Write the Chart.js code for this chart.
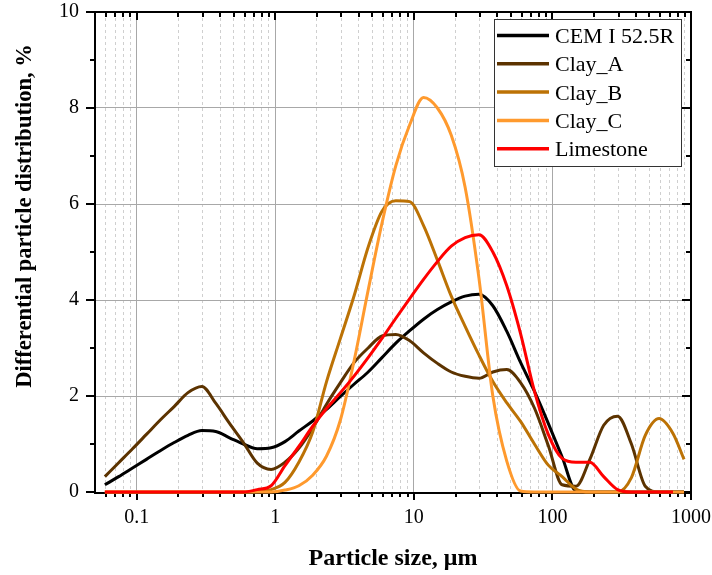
<!DOCTYPE html>
<html>
<head>
<meta charset="utf-8">
<script src="https://cdn.jsdelivr.net/npm/chart.js@4"></script>
<style>
html, body { margin: 0; padding: 0; background: #fff; }
</style>
</head>
<body>
<canvas id="c" width="712" height="575"></canvas>
<script>
// particle sizes, um
var sizes = [0.0589, 0.0741, 0.0933, 0.1175, 0.1479, 0.1862, 0.2344, 0.2951, 0.3715, 0.4677,
    0.5888, 0.7413, 0.9333, 1.175, 1.479, 1.862, 2.344, 2.951, 3.715, 4.677,
    5.888, 7.413, 9.333, 11.75, 14.79, 18.62, 23.44, 29.51, 37.15, 46.77,
    58.88, 74.13, 93.33, 117.5, 147.9, 186.2, 234.4, 295.1, 371.5, 467.7,
    588.8, 741.3, 891];

var cem = [0.15, 0.32, 0.50, 0.68, 0.86, 1.03, 1.18, 1.28, 1.26, 1.13,
    1.00, 0.90, 0.92, 1.05, 1.27, 1.48, 1.72, 1.99, 2.25, 2.50,
    2.80, 3.10, 3.36, 3.60, 3.80, 3.96, 4.08, 4.12, 3.88, 3.35,
    2.70, 2.10, 1.43, 0.73, 0.02, 0, 0, 0, 0, 0,
    0, 0, 0];

var clayA = [0.32, 0.61, 0.90, 1.20, 1.50, 1.78, 2.07, 2.20, 1.85, 1.43,
    1.03, 0.60, 0.47, 0.62, 0.91, 1.33, 1.83, 2.28, 2.70, 3.00,
    3.25, 3.28, 3.15, 2.90, 2.68, 2.50, 2.41, 2.37, 2.50, 2.55,
    2.28, 1.75, 0.97, 0.15, 0.12, 0.68, 1.39, 1.58, 1.00, 0.12,
    0, 0, 0];

var clayB = [0, 0, 0, 0, 0, 0, 0, 0, 0, 0,
    0, 0.01, 0.05, 0.20, 0.62, 1.25, 2.30, 3.20, 4.10, 5.10,
    5.85, 6.07, 6.05, 5.55, 4.83, 4.08, 3.45, 2.85, 2.30, 1.86,
    1.47, 1.00, 0.56, 0.32, 0.06, 0, 0, 0, 0.30, 1.18,
    1.53, 1.22, 0.68];

var clayC = [0, 0, 0, 0, 0, 0, 0, 0, 0, 0,
    0, 0, 0, 0.04, 0.13, 0.35, 0.75, 1.50, 2.75, 4.20,
    5.60, 6.80, 7.65, 8.22, 8.00, 7.43, 6.35, 4.45, 2.00, 0.65,
    0.02, 0, 0, 0, 0, 0, 0, 0, 0, 0,
    0, 0, 0];

var limestone = [0, 0, 0, 0, 0, 0, 0, 0, 0, 0,
    0, 0.05, 0.13, 0.55, 0.95, 1.37, 1.74, 2.07, 2.42, 2.80,
    3.20, 3.62, 4.03, 4.43, 4.80, 5.12, 5.30, 5.36, 5.00, 4.30,
    3.30, 2.10, 1.20, 0.70, 0.62, 0.62, 0.32, 0.05, 0, 0,
    0, 0, null];

var seriesNames = ['CEM I 52.5R', 'Clay_A', 'Clay_B', 'Clay_C', 'Limestone'];
var seriesColors = ['#000000', '#5c3300', '#bc7205', '#ff9a2e', '#ff0000'];
var seriesValues = [cem, clayA, clayB, clayC, limestone];

var xMajorTicks = [0.1, 1, 10, 100, 1000];
var xMinorSteps = [2, 3, 4, 5, 6, 7, 8, 9];
var yLabelTicks = [0, 2, 4, 6, 8, 10];

var xTitle = 'Particle size, \u03bcm';
var yTitle = 'Differential particle distribution, %';

var FONT = "'Liberation Serif', 'Times New Roman', serif";

function isMajor(v) {
    var l = Math.log10(v);
    return Math.abs(l - Math.round(l)) < 1e-6;
}

var xTickList = [];
[0.01, 0.1, 1, 10, 100].forEach(function(d) {
    xMinorSteps.forEach(function(m) {
	var v = d * m;
	if (v > 0.055 && v < 1000) xTickList.push(v);
    });
});
xMajorTicks.forEach(function(v) { xTickList.push(v); });
xTickList.sort(function(a, b) { return a - b; });

function pts(vals) {
    return sizes.map(function(s, i) { return {x: s, y: vals[i]}; });
}

function seg(ctx, x1, y1, x2, y2) {
    ctx.beginPath();
    ctx.moveTo(x1, y1);
    ctx.lineTo(x2, y2);
    ctx.stroke();
}

// no label overhang: the plot box is set by layout padding only
function noOverhang(s) {
    s.paddingLeft = 0;
    s.paddingRight = 0;
    s.paddingTop = 0;
    s.paddingBottom = 0;
}

var framePlugin = {
    id: 'frame',
    beforeDatasetsDraw: function(chart) {
	var ctx = chart.ctx, a = chart.chartArea;
	var xs = chart.scales.x, ys = chart.scales.y;
	ctx.save();
	ctx.strokeStyle = '#000';
	ctx.lineWidth = 2;
	ctx.strokeRect(a.left, a.top, a.right - a.left, a.bottom - a.top + 1);
	xs.ticks.forEach(function(t) {
	    var px = Math.round(xs.getPixelForValue(t.value));
	    var len = isMajor(t.value) ? 8 : 5;
	    seg(ctx, px, a.bottom, px, a.bottom + len);
	    seg(ctx, px, a.top, px, a.top + len);
	});
	ys.ticks.forEach(function(t) {
	    var py = Math.round(ys.getPixelForValue(t.value));
	    var len = (t.value % 2 === 0) ? 9 : 5;
	    seg(ctx, a.left - len, py, a.left, py);
	    seg(ctx, a.right - len, py, a.right, py);
	});
	ctx.restore();
    },
    afterDatasetsDraw: function(chart) {
	var ctx = chart.ctx, a = chart.chartArea;
	ctx.save();
	// legend
	var bx = a.right - 197, by = a.top + 7, bw = 187, bh = 147;
	ctx.fillStyle = '#fff';
	ctx.fillRect(bx, by, bw, bh);
	ctx.strokeStyle = '#333';
	ctx.lineWidth = 1;
	ctx.strokeRect(bx + 0.5, by + 0.5, bw, bh);
	ctx.font = '22px ' + FONT;
	ctx.textBaseline = 'alphabetic';
	ctx.textAlign = 'left';
	chart.data.datasets.forEach(function(ds, i) {
	    var cy = by + 16.5 + i * 28.3;
	    ctx.strokeStyle = ds.borderColor;
	    ctx.lineWidth = 3.5;
	    seg(ctx, bx + 3, cy, bx + 55, cy);
	    ctx.fillStyle = '#000';
	    ctx.fillText(ds.label, bx + 61, cy + 7.5);
	});
	// axis titles
	ctx.fillStyle = '#000';
	ctx.textAlign = 'center';
	ctx.font = 'bold 24px ' + FONT;
	ctx.fillText(xTitle, (a.left + a.right) / 2, 565);
	ctx.font = 'bold 22.5px ' + FONT;
	ctx.translate(31, 216);
	ctx.rotate(-Math.PI / 2);
	ctx.fillText(yTitle, 0, 0);
	ctx.restore();
    }
};

var datasets = seriesNames.map(function(name, i) {
    return {
	label: name,
	data: pts(seriesValues[i]),
	borderColor: seriesColors[i],
	backgroundColor: seriesColors[i],
	borderWidth: 3,
	pointRadius: 0,
	cubicInterpolationMode: 'monotone',
	clip: false,
	spanGaps: false,
	order: seriesNames.length - i
    };
});

new Chart(document.getElementById('c'), {
    type: 'line',
    data: { datasets: datasets },
    plugins: [framePlugin],
    options: {
	responsive: false,
	animation: false,
	devicePixelRatio: 1,
	layout: { padding: { left: 0, top: 12, right: 21, bottom: 0 } },
	plugins: {
	    legend: { display: false },
	    tooltip: { enabled: false }
	},
	scales: {
	    x: {
		type: 'logarithmic',
		min: 0.05,
		max: 1000,
		afterBuildTicks: function(s) {
		    s.ticks = xTickList.map(function(v) { return {value: v}; });
		},
		afterFit: function(s) { s.height = 83; noOverhang(s); },
		border: {
		    display: false,
		    dash: function(c) {
			if (c.type !== 'tick' || !c.tick) return [];
			return isMajor(c.tick.value) ? [] : [3, 3];
		    }
		},
		grid: {
		    drawTicks: false,
		    lineWidth: 1,
		    color: function(c) {
			if (!c.tick) return 'rgba(0,0,0,0)';
			return isMajor(c.tick.value) ? '#a8a8a8' : '#cfcfcf';
		    }
		},
		ticks: {
		    autoSkip: false,
		    maxRotation: 0,
		    padding: 14,
		    color: '#000',
		    font: { family: FONT, size: 20 },
		    callback: function(v) {
			return isMajor(v) ? String(v) : '';
		    }
		}
	    },
	    y: {
		min: 0,
		max: 10,
		afterFit: function(s) { s.width = 95; noOverhang(s); },
		border: { display: false },
		grid: {
		    drawTicks: false,
		    lineWidth: 1,
		    color: function(c) {
			if (!c.tick) return 'rgba(0,0,0,0)';
			var v = c.tick.value;
			return (v > 0 && v < 10 && v % 2 === 0) ? '#a8a8a8' : 'rgba(0,0,0,0)';
		    }
		},
		ticks: {
		    stepSize: 1,
		    padding: 16,
		    color: '#000',
		    font: { family: FONT, size: 20 },
		    callback: function(v) {
			return yLabelTicks.indexOf(v) >= 0 ? String(v) : '';
		    }
		}
	    }
	}
    }
});
</script>
</body>
</html>
